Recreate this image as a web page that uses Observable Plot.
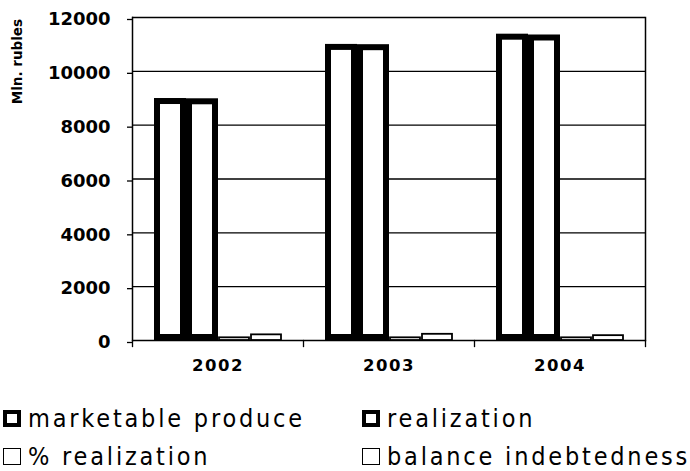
<!DOCTYPE html>
<html><head><meta charset="utf-8">
<script src="https://cdn.jsdelivr.net/npm/d3@7"></script>
<script src="https://cdn.jsdelivr.net/npm/@observablehq/plot@0.6"></script>
<style>
body{margin:0;background:#fff;}
#chart{position:relative;width:690px;height:471px;overflow:hidden;}
.legend{position:absolute;left:0;top:380px;width:690px;height:91px;font-family:"DejaVu Sans Condensed","DejaVu Sans",sans-serif;font-stretch:condensed;font-size:25px;letter-spacing:2.8px;color:#000;}
.item{position:absolute;display:flex;align-items:center;white-space:nowrap;height:20px;}
.sw{width:18px;height:17px;box-sizing:border-box;background:#fff;margin-right:7px;flex:none;}
svg [aria-label="y-axis tick label"] text{font-weight:bold;}
svg [aria-label="fx-axis tick label"] text{font-weight:bold;letter-spacing:1.5px;}
</style></head><body><div id="chart"></div>
<script>
const years = ["2002", "2003", "2004"];
const series = ["marketable produce", "realization", "% realization", "balance indebtedness"];
const marketable = [8990, 11000, 11380];
const realization = [8980, 10990, 11350];
const pctRealization = [99.9, 99.9, 99.7];
const balance = [210, 230, 180];
const yTicks = [0, 2000, 4000, 6000, 8000, 10000, 12000];
const yLabel = "Mln. rubles";
const thickSeries = ["marketable produce", "realization"];

const valuesBySeries = [marketable, realization, pctRealization, balance];
const data = years.flatMap((year, i) => series.map((s, j) => ({year, series: s, value: valuesBySeries[j][i]})));

const W = 690, H = 380, mt = 17, mb = 40, ml = 132, mr = 45;
const plotH = H - mt - mb;

const chart = Plot.plot({
  width: W, height: H, marginTop: mt, marginBottom: mb, marginLeft: ml, marginRight: mr,
  style: {fontFamily: "DejaVu Sans", color: "#000", background: "#fff"},
  fx: {domain: years, padding: 0, label: null, axis: null},
  x: {domain: series, paddingInner: 0, paddingOuter: 0.67, axis: null},
  y: {domain: [0, 12000], ticks: yTicks, label: null, axis: null},
  marks: [
    Plot.ruleY(yTicks, {stroke: "#000", strokeWidth: 1.3}),
    Plot.axisY(yTicks, {anchor: "left", tickSize: 5, tickPadding: 17, fontSize: 18, fontWeight: "bold", label: null, strokeWidth: 1.3, dy: 2, tickFormat: d => String(d)}),
    Plot.axisFx({anchor: "bottom", tickSize: 0, tickPadding: 19, fontSize: 16.5, fontWeight: "bold", label: null}),
    Plot.frame({anchor: "left", facetAnchor: "left", strokeWidth: 1.5}),
    Plot.frame({anchor: "right", facetAnchor: "right", strokeWidth: 1.5}),
    Plot.frame({anchor: "left", insetTop: plotH, insetBottom: -6, strokeWidth: 1.3}),
    Plot.frame({anchor: "right", facetAnchor: "right", insetTop: plotH, insetBottom: -6, strokeWidth: 1.3}),
    Plot.barY(data.filter(d => thickSeries.includes(d.series)), {fx: "year", x: "series", y: "value", fill: "#fff", stroke: "#000", strokeWidth: 6, insetLeft: 3, insetRight: 3, insetTop: 3, insetBottom: 3}),
    Plot.barY(data.filter(d => !thickSeries.includes(d.series)), {fx: "year", x: "series", y: "value", fill: "#fff", stroke: "#000", strokeWidth: 1.8, insetLeft: 1, insetRight: 1})
  ]
});

d3.select(chart).append("text")
  .attr("transform", "translate(22,19) rotate(-90)")
  .attr("text-anchor", "end")
  .attr("font-family", "DejaVu Sans")
  .attr("font-weight", "bold")
  .attr("font-size", 13.5)
  .attr("fill", "#000")
  .text(yLabel);

const root = document.getElementById("chart");
root.appendChild(chart);

const legend = document.createElement("div");
legend.className = "legend";
const legendPos = [[3, 28], [362, 28], [3, 66], [362, 66]];
series.forEach((s, i) => {
  const it = document.createElement("div");
  it.className = "item";
  it.style.left = legendPos[i][0] + "px";
  it.style.top = legendPos[i][1] + "px";
  const sw = document.createElement("span");
  sw.className = "sw";
  sw.style.border = (thickSeries.includes(s) ? 4 : 1.6) + "px solid #000";
  const t = document.createElement("span");
  t.textContent = s;
  it.appendChild(sw); it.appendChild(t);
  legend.appendChild(it);
});
root.appendChild(legend);
</script>
</body></html>
